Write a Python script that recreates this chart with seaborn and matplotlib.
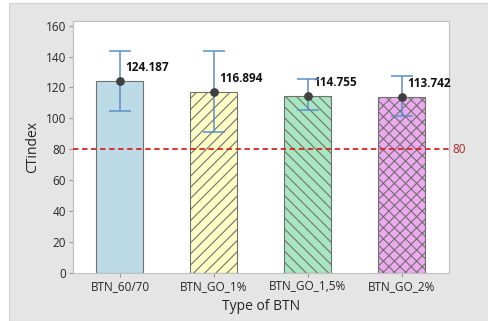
import numpy as np
import pandas as pd
import matplotlib
matplotlib.use("Agg")
import matplotlib.pyplot as plt
import seaborn as sns

# data
types = ["BTN_60/70", "BTN_GO_1%", "BTN_GO_1,5%", "BTN_GO_2%"]
ctindex = [124.187, 116.894, 114.755, 113.742]
err_low = [19.6, 26.0, 9.5, 12.5]
err_high = [19.6, 26.9, 10.5, 13.5]
threshold = 80

bar_colors = ["#bddbe6", "#ffffc6", "#a8e6bf", "#eeaaee"]
hatches = ["", "///", "\\\\\\", "xxx"]

df = pd.DataFrame({"Type of BTN": types, "CTindex": ctindex})

sns.set_style("white")
plt.rcParams["font.family"] = ["Open Sans", "DejaVu Sans"]
plt.rcParams["hatch.color"] = "#505050"
plt.rcParams["hatch.linewidth"] = 0.8

fig = plt.figure(figsize=(4.89, 3.21), dpi=100, facecolor="white")
# grey panel behind the plot
fig.patches.append(plt.Rectangle((9 / 489, 0), 1, 1 - 3 / 321, transform=fig.transFigure,
                                 facecolor="#e5e5e5", edgecolor="#d0d0d0", lw=0.8, zorder=-1))
ax = fig.add_axes([73 / 489, 1 - 273 / 321, 376 / 489, 252 / 321])

sns.barplot(data=df, x="Type of BTN", y="CTindex", hue="Type of BTN", palette=bar_colors,
            saturation=1, width=0.5, edgecolor="#707070", linewidth=0.8, legend=False,
            ax=ax, errorbar=None)
for patch, h in zip(ax.patches, hatches):
    patch.set_hatch(h)

x = np.arange(len(types))
ax.errorbar(x, ctindex, yerr=[err_low, err_high], fmt="none", ecolor="#5b8fc9",
            elinewidth=1.1, capsize=8, capthick=1.1, zorder=4)
ax.scatter(x, ctindex, s=28, color="#404040", zorder=5)
for xi, v in zip(x, ctindex):
    ax.annotate(f"{v:.3f}", (xi, v), xytext=(4, 5), textcoords="offset points",
                fontsize=8.5, fontweight="bold", color="#111111", ha="left", va="bottom")

ax.axhline(threshold, color="#dd2222", ls=(0, (3, 2)), lw=1.3, zorder=3, clip_on=False)
ax.text(1.01, threshold, str(threshold), transform=ax.get_yaxis_transform(), color="#a52a2a",
        fontsize=8.5, va="center", ha="left")

ax.set_xlim(-0.5, 3.5)
ax.set_ylim(0, 163)
ax.set_yticks(range(0, 161, 20))
ax.set_ylabel("CTindex", fontsize=10)
ax.set_xlabel("Type of BTN", fontsize=10)
ax.tick_params(axis="both", labelsize=8.5, length=3, color="#999999", direction="out",
               left=True, bottom=True, pad=2)
for s in ax.spines.values():
    s.set_color("#c0c0c0")
    s.set_linewidth(0.8)
ax.set_facecolor("white")

fig.savefig("out.png", dpi=100)
